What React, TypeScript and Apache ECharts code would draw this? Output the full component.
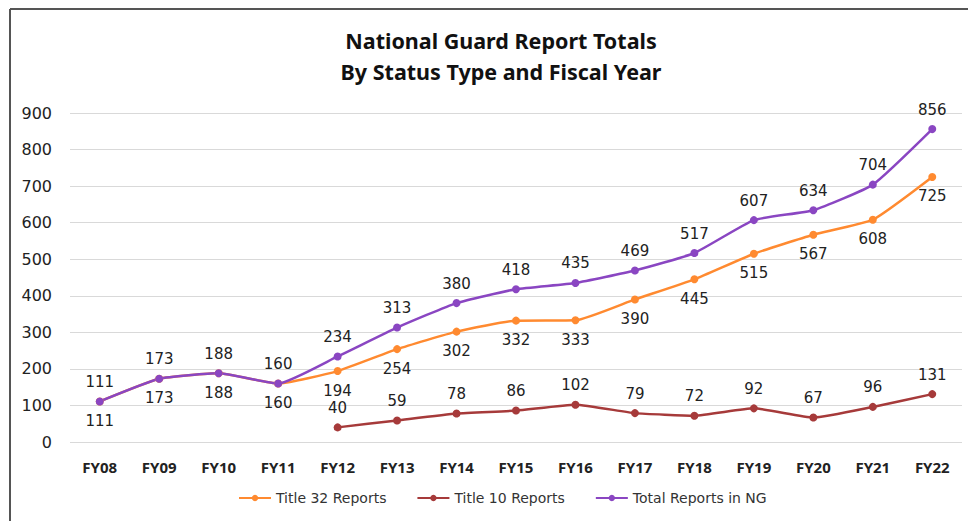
import React, { useEffect, useRef } from "react";
import * as echarts from "echarts";

const categories = ["FY08","FY09","FY10","FY11","FY12","FY13","FY14","FY15","FY16","FY17","FY18","FY19","FY20","FY21","FY22"];
const title32 = [111,173,188,160,194,254,302,332,333,390,445,515,567,608,725];
const title10: (number | null)[] = [null,null,null,null,40,59,78,86,102,79,72,92,67,96,131];
const totalNG = [111,173,188,160,234,313,380,418,435,469,517,607,634,704,856];
const yTicks = { min: 0, max: 900, interval: 100 };

export default function App() {
  const ref = useRef<HTMLDivElement>(null);
  useEffect(() => {
    if (!ref.current) return;
    const chart = echarts.init(ref.current, null, { renderer: "svg" });
    const labelStyle = { fontFamily: "DejaVu Sans", fontSize: 15, color: "#222" };
    chart.setOption({
      animation: false,
      backgroundColor: "#fff",
      title: {
        text: "National Guard Report Totals\nBy Status Type and Fiscal Year",
        left: 496,
        textAlign: "center",
        top: 20,
        textStyle: { fontFamily: "Noto Sans", fontWeight: "bold", fontSize: 21.5, lineHeight: 31, color: "#111" },
      },
      graphic: [
        { type: "line", shape: { x1: 10, y1: 9, x2: 968, y2: 9 }, style: { stroke: "#555", lineWidth: 2 } },
        { type: "line", shape: { x1: 10, y1: 9, x2: 10, y2: 521 }, style: { stroke: "#555", lineWidth: 2 } },
      ],
      legend: {
        bottom: 11,
        left: 233,
        itemWidth: 32,
        itemHeight: 8,
        itemGap: 30,
        textStyle: { fontFamily: "DejaVu Sans", fontSize: 14, color: "#333" },
        data: ["Title 32 Reports", "Title 10 Reports", "Total Reports in NG"],
      },
      grid: { left: 70, right: 6, top: 113, bottom: 79 },
      xAxis: {
        type: "category",
        data: categories,
        axisLine: { show: false },
        axisTick: { show: false },
        axisLabel: { fontFamily: "Noto Sans", fontWeight: "bold", fontSize: 15, color: "#222", margin: 17 },
      },
      yAxis: {
        type: "value",
        min: yTicks.min,
        max: yTicks.max,
        interval: yTicks.interval,
        axisLine: { show: false },
        axisTick: { show: false },
        axisLabel: { fontFamily: "DejaVu Sans", fontSize: 16, color: "#222", margin: 18 },
        splitLine: { lineStyle: { color: "#d9d9d9", width: 1 } },
      },
      series: [
        {
          name: "Title 32 Reports",
          type: "line",
          data: title32,
          smooth: 0.15,
          symbol: "circle",
          symbolSize: 8,
          color: "#FF8A30",
          lineStyle: { width: 2.5 },
          label: { show: true, position: "bottom", distance: 8, ...labelStyle },
        },
        {
          name: "Title 10 Reports",
          type: "line",
          data: title10,
          smooth: 0.15,
          symbol: "circle",
          symbolSize: 8,
          color: "#A63A3A",
          lineStyle: { width: 2.5 },
          label: { show: true, position: "top", distance: 8, ...labelStyle },
        },
        {
          name: "Total Reports in NG",
          type: "line",
          data: totalNG,
          smooth: 0.15,
          symbol: "circle",
          symbolSize: 8,
          color: "#8A46C2",
          lineStyle: { width: 2.5 },
          label: { show: true, position: "top", distance: 8, ...labelStyle },
        },
      ],
    });
    return () => chart.dispose();
  }, []);
  return <div ref={ref} style={{ position: "fixed", left: 0, top: 0, width: 968, height: 521 }} />;
}
